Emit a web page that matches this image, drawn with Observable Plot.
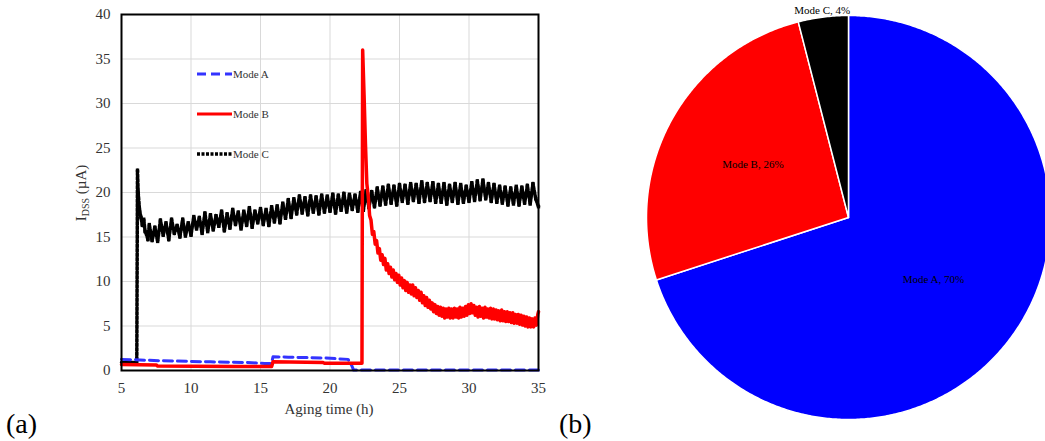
<!DOCTYPE html>
<html><head><meta charset="utf-8">
<script src="https://cdn.jsdelivr.net/npm/d3@7"></script>
<script src="https://cdn.jsdelivr.net/npm/@observablehq/plot@0.6"></script>
<style>
body{margin:0;background:#fff;}
#wrap{position:relative;width:1045px;height:441px;overflow:hidden;font-family:"Liberation Serif","Times New Roman",serif;background:#fff;}
#wrap svg, #wrap svg text{font-family:"Liberation Serif","Times New Roman",serif !important;}
#left{position:absolute;left:0;top:0;}
#right{position:absolute;left:640px;top:0;}
.tag{position:absolute;font-size:28px;line-height:1;color:#000;font-family:"Liberation Serif",serif;}
</style></head><body>
<div id="wrap"><div id="left"></div><div id="right"></div>
<div class="tag" style="left:6px;top:410px">(a)</div>
<div class="tag" style="left:559px;top:410px">(b)</div>
</div>
<script>
// ---- data (a) ----
const xTicks = [5, 10, 15, 20, 25, 30, 35];
const yTicks = [0, 5, 10, 15, 20, 25, 30, 35, 40];

// Mode A: [aging time (h), IDSS (uA)]
const modeA = [[5, 1.25], [6, 1.2], [7.8, 1.1], [11.4, 0.97], [14, 0.9], [15.3, 0.8], [15.8, 0.8], [15.9, 1.55], [17, 1.5], [19.7, 1.4], [21.3, 1.25], [21.55, 0.6], [21.7, 0.05], [25, 0.05], [30, 0.05], [35, 0.05]];

// Mode B
const modeB = [[5, 0.67], [7.5, 0.62], [7.6, 0.5], [13, 0.45], [15.8, 0.45], [15.9, 0.97], [19.5, 0.9], [19.6, 0.82], [22.3, 0.82],
  [22.35, 36.0], [22.45, 31], [22.55, 25.5], [22.65, 21], [22.75, 19.6], [22.85, 17.4],
  [22.95, 16.9], [23.05, 15.3], [23.15, 15.6], [23.25, 14.2], [23.35, 14.6], [23.45, 13.2], [23.55, 13.7], [23.65, 12.4], [23.75, 13.0], [23.85, 11.9], [23.95, 12.6], [24.05, 11.3], [24.15, 12.0], [24.25, 10.9], [24.35, 11.6], [24.45, 10.5], [24.55, 11.3], [24.65, 10.2], [24.75, 10.9], [24.85, 9.9], [24.95, 10.7], [25.05, 9.6], [25.15, 10.4], [25.25, 9.3], [25.35, 10.1], [25.45, 9.0], [25.55, 9.9], [25.65, 8.8], [25.75, 9.6], [25.85, 8.6], [25.95, 9.6], [26.05, 8.4], [26.15, 9.3], [26.25, 8.2], [26.35, 9.0], [26.45, 7.9], [26.55, 8.8], [26.65, 7.6], [26.75, 8.4], [26.85, 7.3], [26.95, 8.2], [27.05, 7.1], [27.15, 7.9], [27.25, 6.9], [27.35, 7.6], [27.45, 6.6], [27.55, 7.4], [27.65, 6.4], [27.75, 7.2], [27.85, 6.2], [27.95, 7.1], [28.05, 6.1], [28.15, 7.0], [28.25, 5.9], [28.35, 6.9], [28.45, 6.0], [28.55, 7.0], [28.65, 5.9], [28.75, 6.9], [28.85, 5.9], [28.95, 7.0], [29.05, 6.0], [29.15, 6.9], [29.25, 5.9], [29.35, 7.1], [29.45, 6.0], [29.55, 7.0], [29.65, 6.1], [29.75, 7.2], [29.85, 6.2], [29.95, 7.4], [30.05, 6.4], [30.15, 7.5], [30.25, 6.5], [30.35, 7.3], [30.45, 6.2], [30.55, 7.1], [30.65, 6.0], [30.75, 7.2], [30.85, 6.1], [30.95, 7.0], [31.05, 5.9], [31.15, 7.1], [31.25, 6.0], [31.35, 6.9], [31.45, 5.9], [31.55, 7.0], [31.65, 5.8], [31.75, 6.9], [31.85, 5.8], [31.95, 6.8], [32.05, 5.7], [32.15, 6.7], [32.25, 5.6], [32.35, 6.8], [32.45, 5.6], [32.55, 6.6], [32.65, 5.5], [32.75, 6.6], [32.85, 5.5], [32.95, 6.5], [33.05, 5.4], [33.15, 6.5], [33.25, 5.3], [33.35, 6.3], [33.45, 5.3], [33.55, 6.3], [33.65, 5.2], [33.75, 6.2], [33.85, 5.1], [33.95, 6.1], [34.05, 5.0], [34.15, 6.0], [34.25, 4.9], [34.35, 5.9], [34.45, 4.9], [34.55, 5.8], [34.65, 4.9], [34.75, 5.9], [34.85, 5.1], [34.95, 6.3], [35.0, 6.6]];

// Mode C
const modeC = [[5.0, 0.9], [6.1, 0.9], [6.15, 22.5], [6.2, 20.0], [6.3, 18.0], [6.4, 17.2], [6.5, 16.3], [6.6, 17.0], [6.7, 15.6], [6.8, 15.3], [6.9, 14.7],
  [7.0, 16.4], [7.2, 14.6], [7.4, 16.1], [7.6, 14.5], [7.8, 16.9], [8.0, 15.2], [8.2, 16.6], [8.4, 14.7], [8.6, 17.0], [8.8, 15.4], [9.0, 16.3], [9.2, 15.0], [9.4, 17.0], [9.6, 15.1], [9.8, 16.6], [10.0, 15.2], [10.2, 17.3], [10.4, 15.9], [10.6, 17.2], [10.8, 15.4], [11.0, 17.7], [11.2, 15.6], [11.4, 17.5], [11.6, 15.8], [11.8, 17.4], [12.0, 16.2], [12.2, 17.9], [12.4, 15.7], [12.6, 17.6], [12.8, 16.0], [13.0, 18.1], [13.2, 16.4], [13.4, 17.8], [13.6, 15.9], [13.8, 17.9], [14.0, 16.3], [14.2, 18.3], [14.4, 16.1], [14.6, 17.9], [14.8, 16.6], [15.0, 18.2], [15.2, 16.4], [15.4, 18.1], [15.6, 16.3], [15.8, 18.4], [16.0, 16.7], [16.2, 18.5], [16.4, 16.6], [16.6, 18.8], [16.8, 17.1], [17.0, 19.2], [17.2, 17.2], [17.4, 19.3], [17.6, 17.6], [17.8, 19.6], [18.0, 17.7], [18.2, 19.4], [18.4, 17.5], [18.6, 19.6], [18.8, 17.8], [19.0, 19.5], [19.2, 17.6], [19.4, 19.7], [19.6, 17.8], [19.8, 19.6], [20.0, 17.9], [20.2, 19.8], [20.4, 17.7], [20.6, 19.7], [20.8, 18.0], [21.0, 19.9], [21.2, 17.8], [21.4, 19.8], [21.6, 18.1], [21.8, 19.7], [22.0, 17.9], [22.2, 20.0], [22.4, 18.0], [22.6, 20.2], [22.8, 18.3], [23.0, 20.1], [23.2, 18.4], [23.4, 20.5], [23.6, 18.6], [23.8, 20.6], [24.0, 18.7], [24.2, 20.8], [24.4, 18.8], [24.6, 20.7], [24.8, 18.6], [25.0, 20.9], [25.2, 19.0], [25.4, 20.8], [25.6, 18.8], [25.8, 21.0], [26.0, 19.1], [26.2, 20.9], [26.4, 18.9], [26.6, 21.2], [26.8, 19.0], [27.0, 21.0], [27.2, 19.1], [27.4, 21.1], [27.6, 18.9], [27.8, 20.9], [28.0, 18.9], [28.2, 21.0], [28.4, 18.7], [28.6, 20.8], [28.8, 19.0], [29.0, 21.0], [29.2, 18.8], [29.4, 20.9], [29.6, 18.9], [29.8, 20.7], [30.0, 19.0], [30.2, 21.1], [30.4, 19.1], [30.6, 21.3], [30.8, 19.2], [31.0, 21.4], [31.2, 19.3], [31.4, 21.0], [31.6, 19.0], [31.8, 20.9], [32.0, 18.9], [32.2, 20.7], [32.4, 18.8], [32.6, 20.6], [32.8, 18.6], [33.0, 20.5], [33.2, 18.7], [33.4, 20.7], [33.6, 18.6], [33.8, 20.6], [34.0, 18.8], [34.2, 20.8], [34.4, 18.7], [34.6, 21.0], [34.8, 19.3], [35.0, 18.4]];

// ---- data (b) ----
const modes = ["Mode A", "Mode B", "Mode C"];
const modeShare = [70, 26, 4];
const modeLabel = ["Mode A, 70%", "Mode B, 26%", "Mode C, 4%"];

// ---- styles ----
const FONT = '"Liberation Serif", "Times New Roman", serif';
const lineColor = ["#3333ff", "#ff0000", "#000000"];
const pieColor = ["#0000ff", "#ff0000", "#000000"];
const labelRadius = [0.52, 0.54, 1.035];

const toRows = arr => arr.map(([t, v]) => ({t, v}));
const rowsC = toRows(modeC);

const left = Plot.plot({
  width: 560, height: 441,
  marginLeft: 121, marginRight: 22, marginTop: 14, marginBottom: 71,
  x: {domain: [5, 35], ticks: xTicks, tickSize: 0, tickPadding: 12, label: null},
  y: {domain: [0, 40], ticks: yTicks, tickSize: 0, tickPadding: 11, label: null},
  style: {fontFamily: FONT, fontSize: "15px", color: "#333", background: "white"},
  marks: [
    Plot.gridX(xTicks, {stroke: "#d9d9d9", strokeOpacity: 1, strokeWidth: 1}),
    Plot.gridY(yTicks, {stroke: "#d9d9d9", strokeOpacity: 1, strokeWidth: 1}),
    Plot.line(rowsC, {x: "t", y: "v", stroke: lineColor[2], strokeWidth: 3.5, strokeDasharray: "3,1.5"}),
    Plot.dot(rowsC.filter(d => d.v > 10), {x: "t", y: "v", symbol: "square", r: 1.9, fill: lineColor[2], stroke: "none"}),
    Plot.line(toRows(modeA), {x: "t", y: "v", stroke: lineColor[0], strokeWidth: 3, strokeDasharray: "9,5"}),
    Plot.line(toRows(modeB), {x: "t", y: "v", stroke: lineColor[1], strokeWidth: 3.5}),
    Plot.frame({stroke: "#000", strokeWidth: 2})
  ]
});
document.getElementById("left").appendChild(left);

const svgL = d3.select(left).style("font-family", FONT);
// axis titles
svgL.append("text").attr("x", 329).attr("y", 414).attr("text-anchor", "middle")
  .attr("font-size", 15).attr("fill", "#333").text("Aging time (h)");
const yl = svgL.append("text").attr("transform", "translate(86,193) rotate(-90)")
  .attr("text-anchor", "middle").attr("font-size", 15).attr("fill", "#333");
yl.append("tspan").text("I");
yl.append("tspan").attr("font-size", 10).attr("dy", 3).text("DSS");
yl.append("tspan").attr("dy", -3).text(" (\u00b5A)");

// legend
const legY = [74, 114, 154];
const legDash = ["9,5", null, "3,1.5"];
const legW = [3, 3, 3.5];
modes.forEach((m, i) => {
  const g = svgL.append("g");
  const l = g.append("line").attr("x1", 197).attr("x2", 232).attr("y1", legY[i]).attr("y2", legY[i])
    .attr("stroke", lineColor[i]).attr("stroke-width", legW[i]);
  if (legDash[i]) l.attr("stroke-dasharray", legDash[i]);
  g.append("text").attr("x", 233).attr("y", legY[i]).attr("dy", "0.35em").attr("text-anchor", "start")
    .attr("font-size", 11).attr("fill", "#333").text(m);
});

// ---- pie ----
const total = d3.sum(modeShare);
let cum = 0;
const slices = modes.map((m, i) => {
  const a0 = cum / total * 2 * Math.PI;
  cum += modeShare[i];
  const a1 = cum / total * 2 * Math.PI;
  const n = Math.max(2, Math.ceil((a1 - a0) / (Math.PI / 360)));
  const pts = [{x: 0, y: 0}];
  for (let k = 0; k <= n; k++) {
    const a = a0 + (a1 - a0) * k / n;
    pts.push({x: Math.sin(a), y: Math.cos(a)});
  }
  pts.push({x: 0, y: 0});
  const mid = (a0 + a1) / 2;
  return {m, i, pts, lx: labelRadius[i] * Math.sin(mid), ly: labelRadius[i] * Math.cos(mid), label: modeLabel[i]};
});

const R = 202, cx = 208, cy = 217, pw = 405, ph = 441;
const pie = Plot.plot({
  width: pw, height: ph,
  marginTop: 0, marginRight: 0, marginBottom: 0, marginLeft: 0,
  x: {domain: [-cx / R, (pw - cx) / R], axis: null},
  y: {domain: [-(ph - cy) / R, cy / R], axis: null},
  style: {fontFamily: FONT, background: "white"},
  marks: [
    ...slices.map(s => Plot.line(s.pts, {x: "x", y: "y", fill: pieColor[s.i], stroke: "white", strokeWidth: 1.5, strokeLinejoin: "round"})),
    Plot.text(slices, {x: "lx", y: "ly", text: "label", fontSize: 11, fill: "#000"})
  ]
});
document.getElementById("right").appendChild(pie);
</script>
</body></html>
